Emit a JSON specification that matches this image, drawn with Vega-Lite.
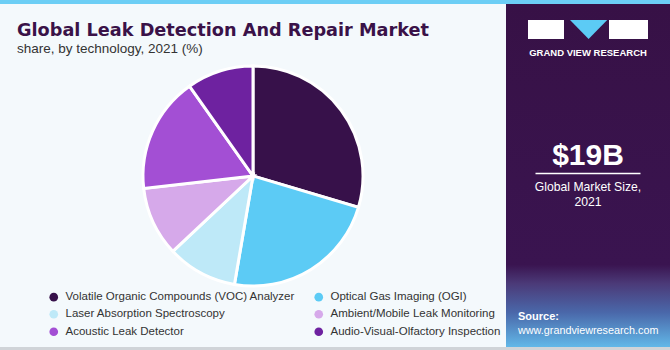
{
  "$schema": "https://vega.github.io/schema/vega-lite/v6.json",
  "background": "#f4f9fc",
  "padding": 0,
  "spacing": 0,
  "config": {"view": {"stroke": null}, "font": "Liberation Sans"},
  "datasets": {
    "shares": [
      {"technology": "Volatile Organic Compounds (VOC) Analyzer", "share": 29.6, "rank": 1},
      {"technology": "Optical Gas Imaging (OGI)", "share": 23.1, "rank": 2},
      {"technology": "Laser Absorption Spectroscopy", "share": 10.3, "rank": 3},
      {"technology": "Ambient/Mobile Leak Monitoring", "share": 10.2, "rank": 4},
      {"technology": "Acoustic Leak Detector", "share": 17.0, "rank": 5},
      {"technology": "Audio-Visual-Olfactory Inspection", "share": 9.8, "rank": 6}
    ],
    "panel": [
      {"brand": "GRAND VIEW RESEARCH", "value": "$19B", "caption": "Global Market Size,", "year": "2021", "source": "Source:", "url": "www.grandviewresearch.com"}
    ],
    "one": [{}]
  },
  "resolve": {"scale": {"color": "independent"}, "legend": {"color": "independent"}},
  "vconcat": [
    {
      "spacing": 0,
      "resolve": {"scale": {"color": "independent"}, "legend": {"color": "independent"}},
      "hconcat": [
        {
          "spacing": 0,
          "resolve": {"scale": {"color": "independent"}, "legend": {"color": "independent"}},
          "vconcat": [
            {
              "width": 506, "height": 4,
              "data": {"name": "one"},
              "mark": {"type": "rect", "color": "#6ccef5"},
              "encoding": {}
            },
            {
              "width": 506, "height": 222,
              "title": {
                "text": ["", "Global Leak Detection And Repair Market"],
                "lineHeight": 17,
                "subtitle": "share, by technology, 2021 (%)",
                "anchor": "start", "dx": 17,
                "font": "DejaVu Sans", "fontSize": 17.7, "fontWeight": "bold", "color": "#3a1248",
                "subtitleFont": "Liberation Sans", "subtitleFontSize": 13.5, "subtitleColor": "#333333",
                "subtitlePadding": 2, "offset": 5
              },
              "data": {"name": "shares"},
              "mark": {"type": "arc", "outerRadius": 110, "stroke": "#ffffff", "strokeWidth": 3},
              "encoding": {
                "theta": {"field": "share", "type": "quantitative", "stack": true},
                "order": {"field": "rank", "type": "quantitative"},
                "color": {
                  "field": "technology", "type": "nominal",
                  "sort": ["Volatile Organic Compounds (VOC) Analyzer", "Optical Gas Imaging (OGI)", "Laser Absorption Spectroscopy", "Ambient/Mobile Leak Monitoring", "Acoustic Leak Detector", "Audio-Visual-Olfactory Inspection"],
                  "scale": {
                    "domain": ["Volatile Organic Compounds (VOC) Analyzer", "Optical Gas Imaging (OGI)", "Laser Absorption Spectroscopy", "Ambient/Mobile Leak Monitoring", "Acoustic Leak Detector", "Audio-Visual-Olfactory Inspection"],
                    "range": ["#37114a", "#5ccbf5", "#bee9f8", "#d6a9ea", "#a34fd4", "#6e22a0"]
                  },
                  "legend": {
                    "orient": "none", "legendX": 48, "legendY": 226,
                    "direction": "horizontal", "columns": 2, "title": null,
                    "symbolType": "circle", "symbolSize": 75, "symbolStrokeWidth": 0,
                    "labelFont": "Liberation Sans",
                    "labelFontSize": 11.5, "labelColor": "#333333", "labelLimit": 300,
                    "columnPadding": 18, "rowPadding": 4.5, "labelOffset": 6
                  }
                }
              }
            }
          ]
        },
        {
          "spacing": 0,
          "vconcat": [
            {
              "width": 164, "height": 4,
              "data": {"name": "one"},
              "mark": {"type": "rect", "color": "#6ccef5"},
              "encoding": {}
            },
            {
              "width": 164, "height": 343,
              "data": {"name": "panel"},
              "layer": [
                {
                  "mark": {"type": "rect", "color": {"gradient": "linear", "x1": 0, "y1": 0, "x2": 0, "y2": 1, "stops": [
                    {"offset": 0, "color": "#371146"},
                    {"offset": 0.76, "color": "#3a1450"},
                    {"offset": 0.815, "color": "#4b3a78"},
                    {"offset": 0.9, "color": "#4a68aa"},
                    {"offset": 1, "color": "#62b8e8"}
                  ]}},
                  "encoding": {}
                },
                {
                  "mark": {"type": "point", "shape": "M-1,-0.16H-0.4V0.16H-1Z M0.35,-0.16H1V0.16H0.35Z", "size": 14400, "filled": true, "color": "#ffffff", "opacity": 1, "strokeWidth": 0, "yOffset": -146},
                  "encoding": {}
                },
                {
                  "mark": {"type": "point", "shape": "M-0.3,-0.16H0.32L0.01,0.16Z", "size": 14400, "filled": true, "color": "#5ccbf5", "opacity": 1, "strokeWidth": 0, "yOffset": -146},
                  "encoding": {}
                },
                {
                  "mark": {"type": "text", "color": "#ffffff", "fontSize": 9.5, "fontWeight": "bold", "letterSpacing": 1.2, "yOffset": -123},
                  "encoding": {"text": {"field": "brand"}}
                },
                {
                  "mark": {"type": "text", "color": "#ffffff", "fontSize": 30, "fontWeight": "bold", "yOffset": -20},
                  "encoding": {"text": {"field": "value"}}
                },
                {
                  "mark": {"type": "point", "shape": "M-1,0H1", "size": 11025, "filled": false, "color": "#ffffff", "opacity": 1, "strokeWidth": 1.5, "yOffset": -2},
                  "encoding": {}
                },
                {
                  "mark": {"type": "text", "color": "#ffffff", "fontSize": 12.2, "yOffset": 11},
                  "encoding": {"text": {"field": "caption"}}
                },
                {
                  "mark": {"type": "text", "color": "#ffffff", "fontSize": 12.2, "yOffset": 26},
                  "encoding": {"text": {"field": "year"}}
                },
                {
                  "mark": {"type": "text", "color": "#ffffff", "fontSize": 11, "fontWeight": "bold", "align": "left", "xOffset": -70, "yOffset": 141},
                  "encoding": {"text": {"field": "source"}}
                },
                {
                  "mark": {"type": "text", "color": "#ffffff", "fontSize": 10.8, "align": "left", "xOffset": -70, "yOffset": 155},
                  "encoding": {"text": {"field": "url"}}
                }
              ]
            }
          ]
        }
      ]
    },
    {
      "width": 670, "height": 3,
      "data": {"name": "one"},
      "mark": {"type": "rect", "color": "#d0d4d8"},
      "encoding": {}
    }
  ]
}
